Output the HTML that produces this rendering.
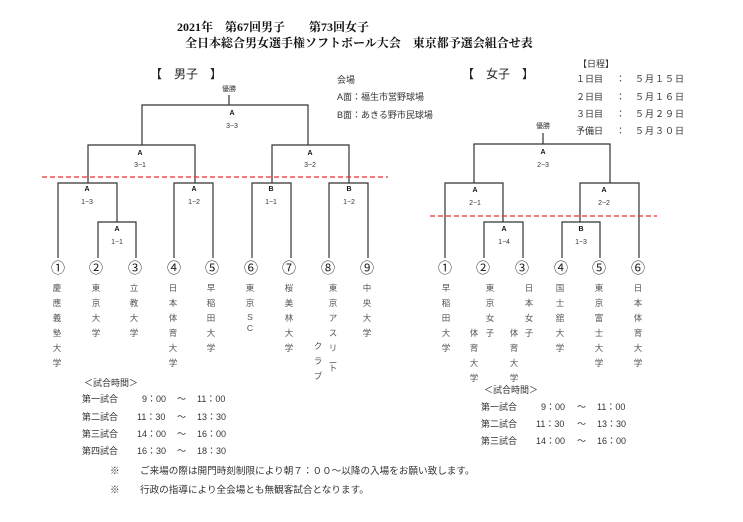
<!DOCTYPE html>
<html><head><meta charset="utf-8"><style>
html,body{margin:0;padding:0;background:#fff;width:743px;height:522px;overflow:hidden}
svg{display:block}
text{font-family:"Liberation Sans","Noto Sans CJK JP",sans-serif;fill:#333}
.t{font-family:"Liberation Serif","Noto Serif CJK JP",serif;fill:#111;font-size:12px;font-weight:bold}
.s{font-size:7px;text-anchor:middle}
.sb{font-size:7px;text-anchor:middle;font-weight:bold;fill:#111}
.n{font-size:14px;text-anchor:middle;fill:#222}
.v{font-size:8.5px;text-anchor:middle;fill:#555}
.m{font-size:9px;fill:#333}
.k{font-size:9.6px;fill:#333}
</style></head><body>
<svg width="743" height="522" viewBox="0 0 743 522">
<text class="t" x="177" y="31">2021年　第67回男子　　第73回女子</text>
<text class="t" x="185" y="47">全日本総合男女選手権ソフトボール大会　東京都予選会組合せ表</text>

<text x="150" y="78" style="font-size:12px;fill:#222">【　男子　】</text>
<text x="462" y="78" style="font-size:12px;fill:#222">【　女子　】</text>
<text class="m" x="337" y="83">会場</text>
<text class="m" x="337" y="100">A面：福生市営野球場</text>
<text class="m" x="337" y="118">B面：あきる野市民球場</text>
<text class="m" x="578" y="67">【日程】</text>
<text class="m" x="576" y="82">１日目</text><text class="m" x="616" y="82">：</text><text class="m" x="635" y="82" letter-spacing="1">５月１５日</text>
<text class="m" x="576" y="100">２日目</text><text class="m" x="616" y="100">：</text><text class="m" x="635" y="100" letter-spacing="1">５月１６日</text>
<text class="m" x="576" y="117">３日目</text><text class="m" x="616" y="117">：</text><text class="m" x="635" y="117" letter-spacing="1">５月２９日</text>
<text class="m" x="576" y="134">予備日</text><text class="m" x="616" y="134">：</text><text class="m" x="635" y="134" letter-spacing="1">５月３０日</text>

<g stroke="#333" stroke-width="1.2" fill="none">
<path d="M229 95V105M142 145V105H308V145"/>
<path d="M88 183V145H195V183"/>
<path d="M272 183V145H349V183"/>
<path d="M58 258V183H117V222"/>
<path d="M98 258V222H136V258"/>
<path d="M174 258V183H213V258"/>
<path d="M252 258V183H291V258"/>
<path d="M329 258V183H368V258"/>
<path d="M543 133V144M474 183V144H610V183"/>
<path d="M445 258V183H503V222"/>
<path d="M484 258V222H523V258"/>
<path d="M580 222V183H639V258"/>
<path d="M562 258V222H600V258"/>
</g>
<g stroke="#e03030" stroke-width="1.3" stroke-dasharray="5,3">
<path d="M42 177H388"/>
<path d="M430 216H657"/>
</g>

<text class="s" x="229" y="91">優勝</text>
<text class="sb" x="232" y="115">A</text><text class="s" x="232" y="128">3−3</text>
<text class="sb" x="140" y="155">A</text><text class="s" x="140" y="167">3−1</text>
<text class="sb" x="310" y="155">A</text><text class="s" x="310" y="167">3−2</text>
<text class="sb" x="87" y="191">A</text><text class="s" x="87" y="204">1−3</text>
<text class="sb" x="117" y="231">A</text><text class="s" x="117" y="244">1−1</text>
<text class="sb" x="194" y="191">A</text><text class="s" x="194" y="204">1−2</text>
<text class="sb" x="271" y="191">B</text><text class="s" x="271" y="204">1−1</text>
<text class="sb" x="349" y="191">B</text><text class="s" x="349" y="204">1−2</text>

<text class="s" x="543" y="128">優勝</text>
<text class="sb" x="543" y="154">A</text><text class="s" x="543" y="167">2−3</text>
<text class="sb" x="475" y="192">A</text><text class="s" x="475" y="205">2−1</text>
<text class="sb" x="604" y="192">A</text><text class="s" x="604" y="205">2−2</text>
<text class="sb" x="504" y="231">A</text><text class="s" x="504" y="244">1−4</text>
<text class="sb" x="581" y="231">B</text><text class="s" x="581" y="244">1−3</text>

<text class="n" x="58" y="273">①</text><text class="n" x="96" y="273">②</text><text class="n" x="135" y="273">③</text>
<text class="n" x="174" y="273">④</text><text class="n" x="212" y="273">⑤</text><text class="n" x="251" y="273">⑥</text>
<text class="n" x="289" y="273">⑦</text><text class="n" x="328" y="273">⑧</text><text class="n" x="367" y="273">⑨</text>
<text class="n" x="445" y="273">①</text><text class="n" x="483" y="273">②</text><text class="n" x="522" y="273">③</text>
<text class="n" x="561" y="273">④</text><text class="n" x="599" y="273">⑤</text><text class="n" x="638" y="273">⑥</text>

<text class="v" x="57" y="291">慶</text><text class="v" x="57" y="306">應</text><text class="v" x="57" y="321">義</text><text class="v" x="57" y="336">塾</text><text class="v" x="57" y="351">大</text><text class="v" x="57" y="366">学</text>
<text class="v" x="96" y="291">東</text><text class="v" x="96" y="306">京</text><text class="v" x="96" y="321">大</text><text class="v" x="96" y="336">学</text>
<text class="v" x="134" y="291">立</text><text class="v" x="134" y="306">教</text><text class="v" x="134" y="321">大</text><text class="v" x="134" y="336">学</text>
<text class="v" x="173" y="291">日</text><text class="v" x="173" y="306">本</text><text class="v" x="173" y="321">体</text><text class="v" x="173" y="336">育</text><text class="v" x="173" y="351">大</text><text class="v" x="173" y="366">学</text>
<text class="v" x="211" y="291">早</text><text class="v" x="211" y="306">稲</text><text class="v" x="211" y="321">田</text><text class="v" x="211" y="336">大</text><text class="v" x="211" y="351">学</text>
<text class="v" x="250" y="291">東</text><text class="v" x="250" y="306">京</text><text class="v" x="250" y="320">S</text><text class="v" x="250" y="331">C</text>
<text class="v" x="289" y="291">桜</text><text class="v" x="289" y="306">美</text><text class="v" x="289" y="321">林</text><text class="v" x="289" y="336">大</text><text class="v" x="289" y="351">学</text>
<text class="v" x="333" y="291">東</text><text class="v" x="333" y="306">京</text><text class="v" x="333" y="321">ア</text><text class="v" x="333" y="336">ス</text><text class="v" x="333" y="351">リ</text><text class="v" x="333" y="366">ー</text><text class="v" x="333" y="371">ト</text>
<text class="v" x="318" y="349">ク</text><text class="v" x="318" y="364">ラ</text><text class="v" x="318" y="379">ブ</text>
<text class="v" x="367" y="291">中</text><text class="v" x="367" y="306">央</text><text class="v" x="367" y="321">大</text><text class="v" x="367" y="336">学</text>

<text class="v" x="446" y="291">早</text><text class="v" x="446" y="306">稲</text><text class="v" x="446" y="321">田</text><text class="v" x="446" y="336">大</text><text class="v" x="446" y="351">学</text>
<text class="v" x="490" y="291">東</text><text class="v" x="490" y="306">京</text><text class="v" x="490" y="321">女</text><text class="v" x="490" y="336">子</text>
<text class="v" x="474" y="336">体</text><text class="v" x="474" y="351">育</text><text class="v" x="474" y="366">大</text><text class="v" x="474" y="381">学</text>
<text class="v" x="529" y="291">日</text><text class="v" x="529" y="306">本</text><text class="v" x="529" y="321">女</text><text class="v" x="529" y="336">子</text>
<text class="v" x="514" y="336">体</text><text class="v" x="514" y="351">育</text><text class="v" x="514" y="366">大</text><text class="v" x="514" y="381">学</text>
<text class="v" x="560" y="291">国</text><text class="v" x="560" y="306">士</text><text class="v" x="560" y="321">舘</text><text class="v" x="560" y="336">大</text><text class="v" x="560" y="351">学</text>
<text class="v" x="599" y="291">東</text><text class="v" x="599" y="306">京</text><text class="v" x="599" y="321">富</text><text class="v" x="599" y="336">士</text><text class="v" x="599" y="351">大</text><text class="v" x="599" y="366">学</text>
<text class="v" x="638" y="291">日</text><text class="v" x="638" y="306">本</text><text class="v" x="638" y="321">体</text><text class="v" x="638" y="336">育</text><text class="v" x="638" y="351">大</text><text class="v" x="638" y="366">学</text>

<text class="m" x="84" y="386">＜試合時間＞</text>
<text class="m" x="82" y="402">第一試合</text><text class="m" x="142" y="402">9：00</text><text class="m" x="177" y="402">～</text><text class="m" x="197" y="402">11：00</text>
<text class="m" x="82" y="420">第二試合</text><text class="m" x="137" y="420">11：30</text><text class="m" x="177" y="420">～</text><text class="m" x="197" y="420">13：30</text>
<text class="m" x="82" y="437">第三試合</text><text class="m" x="137" y="437">14：00</text><text class="m" x="177" y="437">～</text><text class="m" x="197" y="437">16：00</text>
<text class="m" x="82" y="454">第四試合</text><text class="m" x="137" y="454">16：30</text><text class="m" x="177" y="454">～</text><text class="m" x="197" y="454">18：30</text>

<text class="m" x="484" y="393">＜試合時間＞</text>
<text class="m" x="481" y="410">第一試合</text><text class="m" x="541" y="410">9：00</text><text class="m" x="577" y="410">～</text><text class="m" x="597" y="410">11：00</text>
<text class="m" x="481" y="427">第二試合</text><text class="m" x="536" y="427">11：30</text><text class="m" x="577" y="427">～</text><text class="m" x="597" y="427">13：30</text>
<text class="m" x="481" y="444">第三試合</text><text class="m" x="536" y="444">14：00</text><text class="m" x="577" y="444">～</text><text class="m" x="597" y="444">16：00</text>

<text class="k" x="110" y="474">※</text><text class="k" x="140" y="474">ご来場の際は開門時刻制限により朝７：００～以降の入場をお願い致します。</text>
<text class="k" x="110" y="493">※</text><text class="k" x="140" y="493">行政の指導により全会場とも無観客試合となります。</text>
</svg>
</body></html>
